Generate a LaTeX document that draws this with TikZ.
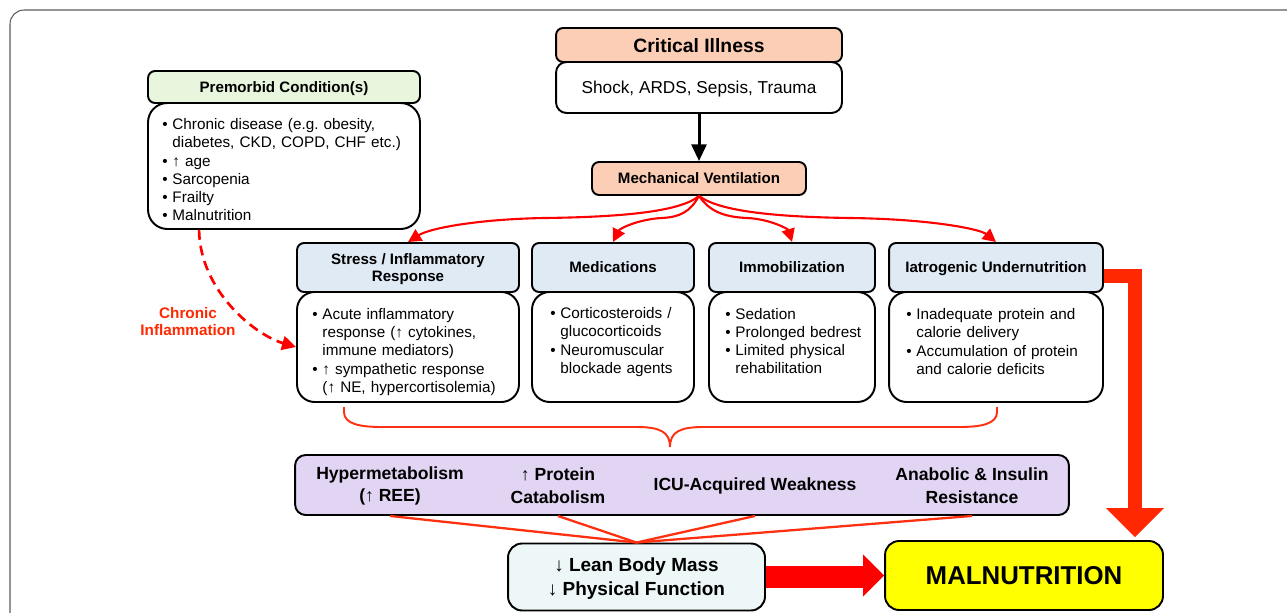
\documentclass[tikz,border=0pt]{standalone}
\usepackage{fontspec}
\setmainfont{Liberation Sans}
\usepackage{tikz}
\usetikzlibrary{
  arrows.meta,%
  calc,%
  positioning
}
\definecolor{peach}{RGB}{252,206,182}
\definecolor{hdrgreen}{RGB}{232,246,222}
\definecolor{hdrblue}{RGB}{224,234,245}
\definecolor{lavender}{RGB}{225,213,243}
\definecolor{leanfill}{RGB}{238,247,247}
\definecolor{malyellow}{RGB}{255,255,0}
\definecolor{fanred}{RGB}{255,0,0}
\definecolor{bracered}{RGB}{255,48,16}
\definecolor{orred}{RGB}{255,40,0}
\definecolor{framegray}{RGB}{90,90,90}
\tikzset{>=Triangle}
\tikzset{
  hdr/.style={draw, line width=1.1pt, rounded corners=4pt, align=center,
    inner sep=0pt, text depth=0pt, font=\bfseries\fontsize{8.6}{9.8}\selectfont},
  bodybox/.style={draw, line width=1.1pt, rounded corners=10pt, fill=white,
    inner sep=0pt, text depth=0pt},
  bodytext/.style={anchor=north west, inner sep=0pt, text width=6cm,
    align=left, font=\fontsize{8.7}{10.2}\selectfont},
  effect/.style={align=center, inner sep=0pt,
    font=\bfseries\fontsize{10}{13}\selectfont},
  fan/.style={draw=fanred, line width=1.2pt,
    -{Triangle[length=7.5pt,width=7.5pt]}},
  convline/.style={draw=bracered, line width=1.3pt},
  chronic/.style={draw=fanred, line width=1.5pt, dash pattern=on 5.6pt off 3.4pt,
    -{Triangle[length=8pt,width=8pt]}},
  chronlbl/.style={align=center, inner sep=0pt, text=orred,
    font=\bfseries\fontsize{8.7}{9.7}\selectfont}
}
% one bullet item, continuation lines hang under the text
\newcommand{\itm}[1]{\par\noindent\makebox[5.7pt][l]{\textbullet}\parbox[t]{5.6cm}{\strut#1\strut}}

\begin{document}
\begin{tikzpicture}[x=0.02cm, y=-0.02cm]
  \clip (0,0) rectangle (1287,612);
  \useasboundingbox (0,0) rectangle (1287,612);
  % frame
  \draw[framegray, line width=0.6pt, rounded corners=8pt] (10,10) rectangle (1330,660);

  % critical illness and ventilation
  \node[bodybox, rounded corners=6pt, minimum width=5.72cm, minimum height=1.02cm,
    font=\fontsize{9.8}{12}\selectfont] (critb) at (699,87.5) {Shock, ARDS, Sepsis, Trauma};
  \node[hdr, fill=peach, minimum width=5.72cm, minimum height=0.68cm,
    font=\bfseries\fontsize{11}{13}\selectfont] (crith) at (699,45) {Critical Illness};
  \node[hdr, fill=peach, minimum width=4.28cm, minimum height=0.66cm] (mv) at (699,178.5) {Mechanical Ventilation};
  \draw[line width=1.7pt, -{Triangle[length=9.5pt,width=8.5pt]}] (critb.south) -- (mv.north);

  % premorbid
  \node[bodybox, rounded corners=11pt, minimum width=5.44cm, minimum height=2.52cm] (preb) at (284,166) {};
  \node[hdr, fill=hdrgreen, minimum width=5.44cm, minimum height=0.64cm] (preh) at (284,87) {Premorbid Condition(s)};
  \node[bodytext] (pret) at ($(preb.north west)+(15,9)$) {\itm{Chronic disease (e.g.\ obesity,\\ diabetes, CKD, COPD, CHF etc.)}\itm{↑ age}\itm{Sarcopenia}\itm{Frailty}\itm{Malnutrition}};

  % four mechanisms
  \node[bodybox, minimum width=4.44cm, minimum height=2.2cm] (stressb) at (408,347) {};
  \node[hdr, fill=hdrblue, minimum width=4.44cm, minimum height=0.98cm] (stressh) at (408,267.5) {Stress / Inflammatory\\Response};
  \node[bodytext] (stresst) at ($(stressb.north west)+(16,10)$) {\itm{Acute inflammatory\\ response (↑ cytokines,\\ immune mediators)}\itm{↑ sympathetic response\\ (↑ NE, hypercortisolemia)}};

  \node[bodybox, minimum width=3.24cm, minimum height=2.2cm] (medb) at (613,347) {};
  \node[hdr, fill=hdrblue, minimum width=3.24cm, minimum height=0.98cm] (medh) at (613,267.5) {Medications};
  \node[bodytext] (medt) at ($(medb.north west)+(19,9)$) {\itm{Corticosteroids /\\ glucocorticoids}\itm{Neuromuscular\\ blockade agents}};

  \node[bodybox, minimum width=3.32cm, minimum height=2.2cm] (immb) at (792,347) {};
  \node[hdr, fill=hdrblue, minimum width=3.32cm, minimum height=0.98cm] (immh) at (792,267.5) {Immobilization};
  \node[bodytext] (immt) at ($(immb.north west)+(17,10)$) {\itm{Sedation}\itm{Prolonged bedrest}\itm{Limited physical\\ rehabilitation}};

  \node[bodybox, minimum width=4.28cm, minimum height=2.2cm] (iatb) at (996,347) {};
  \node[hdr, fill=hdrblue, minimum width=4.28cm, minimum height=0.98cm] (iath) at (996,267.5) {Iatrogenic Undernutrition};
  \node[bodytext] (iatt) at ($(iatb.north west)+(18,10)$) {\itm{Inadequate protein and\\ calorie delivery}\itm{Accumulation of protein\\ and calorie deficits}};

  % fan out of ventilation
  \draw[fan] (mv.south) .. controls (680,212) and (620,217) .. (545,218)
    .. controls (480,219) and (430,228) .. (stressh.north);
  \draw[fan] (mv.south) .. controls (690,212) and (680,217) .. (662,218)
    .. controls (640,219) and (620,228) .. (medh.north);
  \draw[fan] (mv.south) .. controls (710,212) and (725,217) .. (747,218)
    .. controls (770,219) and (788,229) .. (immh.north);
  \draw[fan] (mv.south) .. controls (720,212) and (780,217) .. (850,218)
    .. controls (930,219) and (980,229) .. (iath.north);

  % chronic inflammation
  \draw[chronic] ($(preb.south west)+(52,0)$) .. controls (200,291) and (255,335) .. (stressb.west);
  \node[chronlbl] (chron) at (188,322) {Chronic\\Inflammation};

  % brace
  \draw[bracered, line width=1.1pt] (344,407) -- (344,412) .. controls (344,424) and (360,427) .. (382,427)
    -- (637,427) .. controls (660,427) and (670,432) .. (670,447)
    .. controls (670,432) and (680,427) .. (703,427) -- (959,427)
    .. controls (981,427) and (997,424) .. (997,412) -- (997,407);

  % consequences
  \node[draw, line width=1.1pt, rounded corners=6pt, fill=lavender, minimum width=15.48cm,
    minimum height=1.2cm] (purple) at (682,485) {};
  \node[effect] (hyp) at (390,486) {Hypermetabolism\\(↑ REE)};
  \node[effect] (prot) at (558,486) {↑ Protein\\Catabolism};
  \node[effect] (icu) at (755,486) {ICU-Acquired Weakness};
  \node[effect] (anab) at (972,486) {Anabolic \& Insulin\\Resistance};

  \node[draw, line width=1.1pt, rounded corners=8pt, fill=leanfill, minimum width=5.14cm,
    minimum height=1.34cm, align=center, text depth=0pt, font=\bfseries\fontsize{10.8}{13.6}\selectfont]
    (lean) at (636.5,577) {↓ Lean Body Mass\\↓ Physical Function};
  \foreach \n in {hyp,prot,icu,anab}
    \draw[convline] (\n |- purple.south) -- (lean.north);

  \node[draw, line width=1.1pt, rounded corners=8pt, fill=malyellow, minimum width=5.56cm,
    minimum height=1.38cm, font=\bfseries\fontsize{14.7}{17}\selectfont] (mal) at (1024,575.5) {MALNUTRITION};

  % big arrows
  \coordinate (tipR) at (mal.west);
  \coordinate (baseR) at ($(tipR)+(-21,0)$);
  \draw[fanred, line width=0.44cm] (lean.east) -- (lean.east -| baseR);
  \fill[fanred] ($(baseR)+(0,-21)$) -- (tipR) -- ($(baseR)+(0,21)$) -- cycle;

  \coordinate (tipL) at ($(mal.north east)+(-29,-3)$);
  \coordinate (baseL) at ($(tipL)+(0,-29)$);
  \draw[orred, line width=0.28cm, line join=miter] ($(iath.east)+(0,8.5)$) -| (baseL);
  \fill[orred] ($(baseL)+(-29,0)$) -- (tipL) -- ($(baseL)+(29,0)$) -- cycle;
\end{tikzpicture}
\end{document}
